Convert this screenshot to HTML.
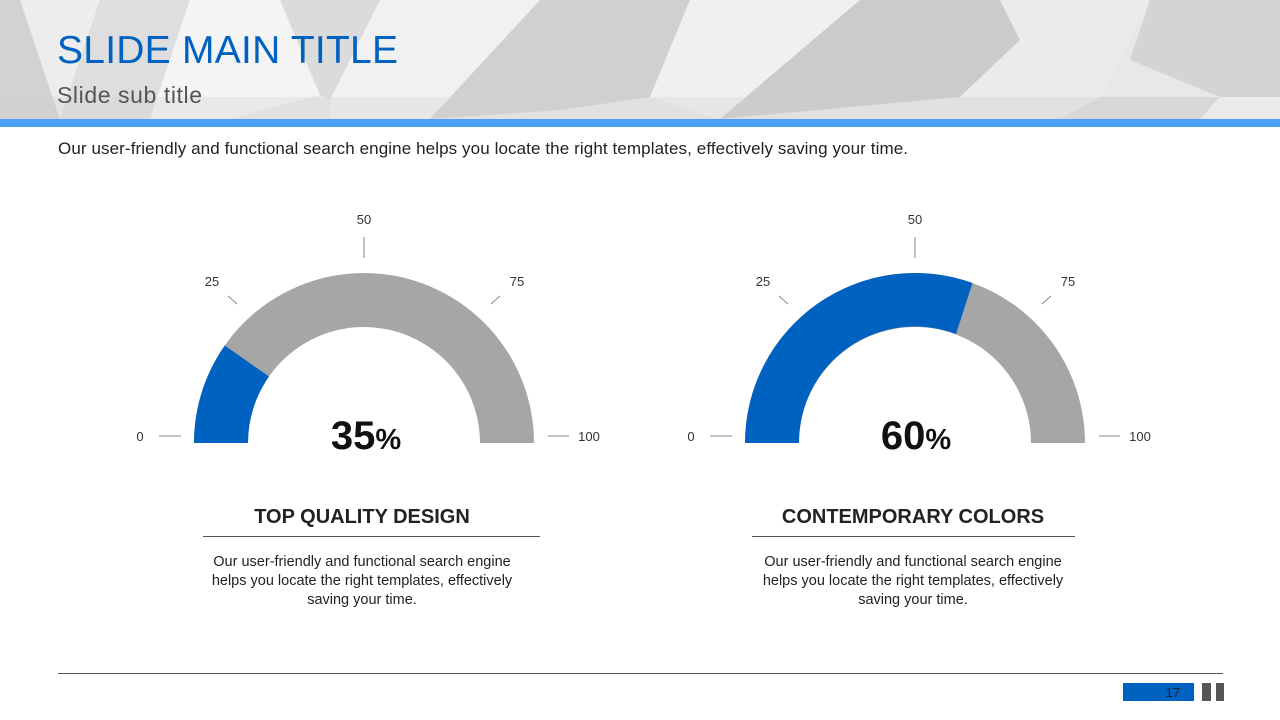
<!DOCTYPE html>
<html><head><meta charset="utf-8"><style>
body{margin:0;width:1280px;height:720px;overflow:hidden;background:#fff;font-family:"Liberation Sans",sans-serif}
</style></head><body>
<svg width="1280" height="720" xmlns="http://www.w3.org/2000/svg" style="position:absolute;left:0;top:0">
<rect x="0" y="0" width="1280" height="119" fill="#e8e8e8"/>
<polygon points="0,0 20,0 60,119 0,119" fill="#d2d2d2"/>
<polygon points="20,0 100,0 60,119" fill="#ededed"/>
<polygon points="100,0 190,0 150,119 60,119" fill="#dedede"/>
<polygon points="190,0 280,0 320,95 230,119 150,119" fill="#f4f4f4"/>
<polygon points="280,0 380,0 330,100 320,95" fill="#dbdbdb"/>
<polygon points="380,0 540,0 430,119 330,119 330,100" fill="#f1f1f1"/>
<polygon points="540,0 690,0 650,97 560,110 430,119" fill="#d0d0d0"/>
<polygon points="690,0 860,0 720,119 650,97" fill="#f0f0f0"/>
<polygon points="860,0 1000,0 1020,40 960,97 720,119" fill="#cbcbcb"/>
<polygon points="1000,0 1150,0 1100,97 960,97 1020,40" fill="#ebebeb"/>
<polygon points="1150,0 1280,0 1280,97 1220,97 1130,60" fill="#d4d4d4"/>
<polygon points="1100,97 1220,97 1200,119 1060,119" fill="#dcdcdc"/>
<polygon points="1220,97 1280,97 1280,119 1200,119" fill="#f5f5f5"/>
<rect x="0" y="97" width="1280" height="22" fill="#cfcfcf" opacity="0.3"/>
<rect x="0" y="119" width="1280" height="8" fill="#4aa0f5"/>
<text x="57" y="63" font-size="39" fill="#0062c0" textLength="341">SLIDE MAIN TITLE</text>
<text x="57" y="103" font-size="23" fill="#555" textLength="145">Slide sub title</text>
<text x="58" y="154" font-size="17" fill="#222" textLength="850">Our user-friendly and functional search engine helps you locate the right templates, effectively saving your time.</text>

<path d="M194,443 A170,170 0 0 1 534,443 L480,443 A116,116 0 0 0 248,443 Z" fill="#a6a6a6"/>
<path d="M194,443 A170,170 0 0 1 224.7,345.5 L269,376.5 A116,116 0 0 0 248,443 Z" fill="#0062c0"/>
<g stroke="#888" stroke-width="1" fill="none">
<line x1="364" y1="237" x2="364" y2="258"/><line x1="228" y1="296" x2="237" y2="304"/><line x1="491" y1="304" x2="500" y2="296"/><line x1="159" y1="436" x2="181" y2="436"/><line x1="548" y1="436" x2="569" y2="436"/>
<line x1="915" y1="237" x2="915" y2="258"/><line x1="779" y1="296" x2="788" y2="304"/><line x1="1042" y1="304" x2="1051" y2="296"/><line x1="710" y1="436" x2="732" y2="436"/><line x1="1099" y1="436" x2="1120" y2="436"/>
</g>
<g font-size="13" fill="#333" text-anchor="middle">
<text x="140" y="441">0</text><text x="212" y="286">25</text><text x="364" y="224">50</text><text x="517" y="286">75</text><text x="589" y="441">100</text>
<text x="691" y="441">0</text><text x="763" y="286">25</text><text x="915" y="224">50</text><text x="1068" y="286">75</text><text x="1140" y="441">100</text>
</g>
<path d="M745,443 A170,170 0 0 1 1085,443 L1031,443 A116,116 0 0 0 799,443 Z" fill="#a6a6a6"/>
<path d="M745,443 A170,170 0 0 1 972.5,283 L956,334 A116,116 0 0 0 799,443 Z" fill="#0062c0"/>
<text x="366" y="449" font-size="40" font-weight="bold" text-anchor="middle" fill="#111">35<tspan font-size="29">%</tspan></text>
<text x="916" y="449" font-size="40" font-weight="bold" text-anchor="middle" fill="#111">60<tspan font-size="29">%</tspan></text>

<text x="362" y="523" font-size="20" font-weight="bold" text-anchor="middle" fill="#222">TOP QUALITY DESIGN</text>
<line x1="203" y1="536.5" x2="540" y2="536.5" stroke="#555"/>
<g font-size="14.5" fill="#222" text-anchor="middle">
<text x="362" y="566">Our user-friendly and functional search engine</text>
<text x="362" y="585">helps you locate the right templates, effectively</text>
<text x="362" y="604">saving your time.</text>
<text x="913" y="566">Our user-friendly and functional search engine</text>
<text x="913" y="585">helps you locate the right templates, effectively</text>
<text x="913" y="604">saving your time.</text>
</g>
<text x="913" y="523" font-size="20" font-weight="bold" text-anchor="middle" fill="#222">CONTEMPORARY COLORS</text>
<line x1="752" y1="536.5" x2="1075" y2="536.5" stroke="#555"/>

<line x1="58" y1="673.5" x2="1223" y2="673.5" stroke="#555"/>
<rect x="1123" y="683" width="71" height="18" fill="#0062c0"/>
<text x="1180" y="697" font-size="13" fill="#222" text-anchor="end">17</text>
<rect x="1202" y="683" width="9" height="18" fill="#555"/>
<rect x="1216" y="683" width="8" height="18" fill="#555"/>
</svg>
</body></html>
